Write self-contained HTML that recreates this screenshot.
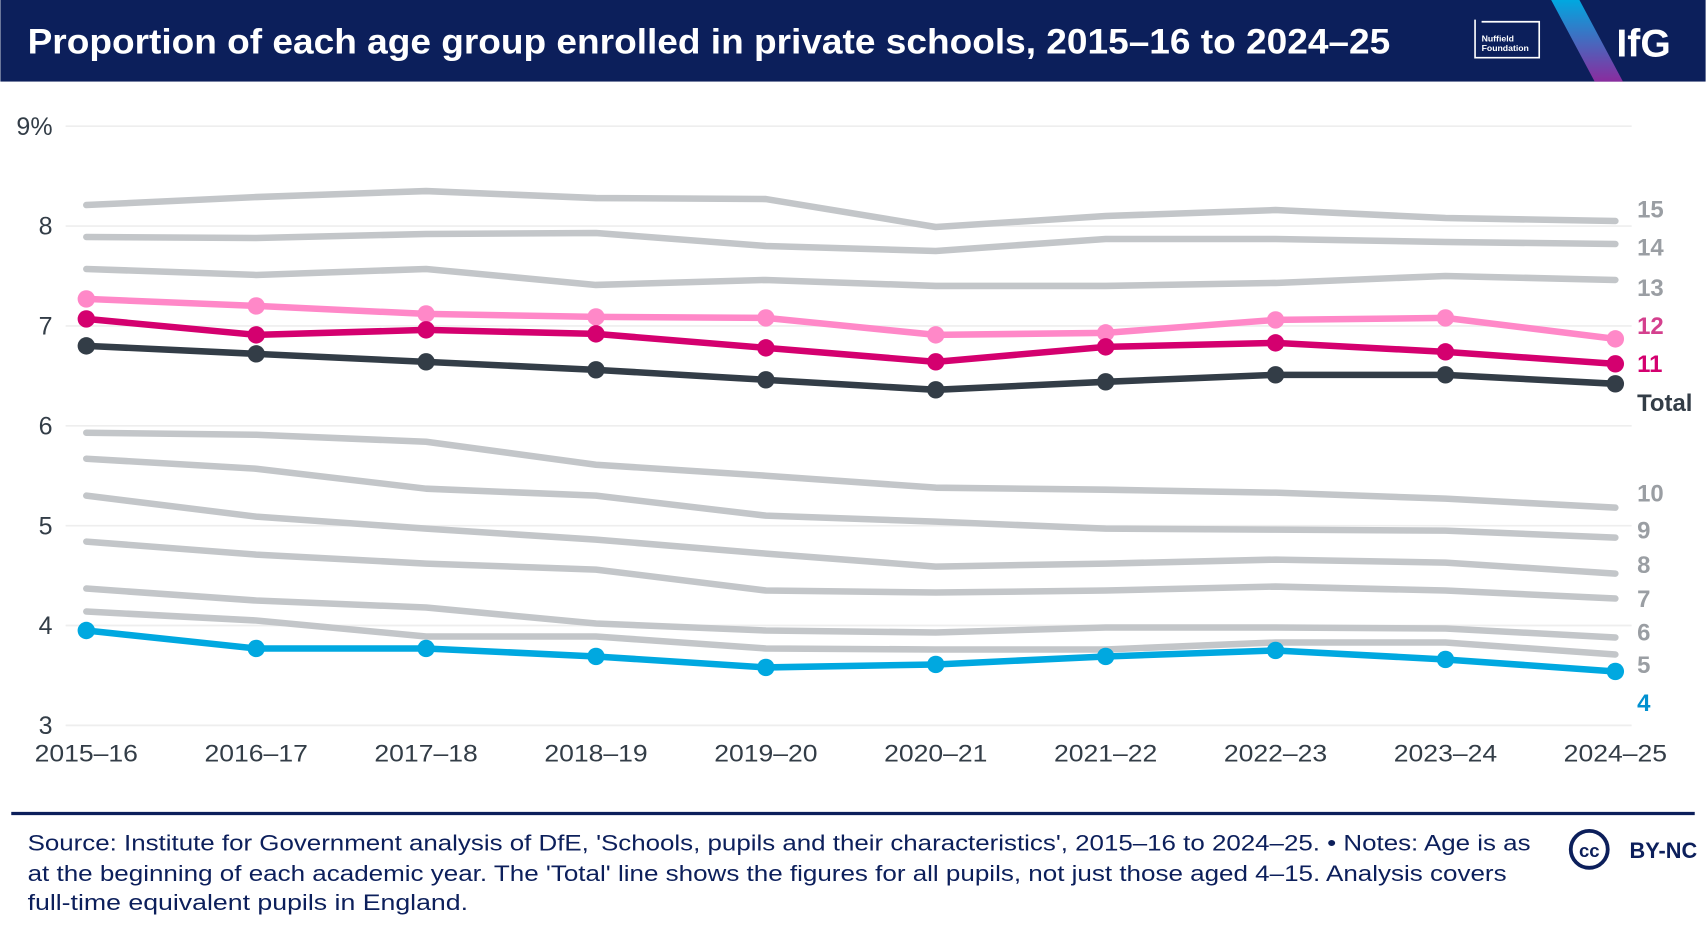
<!DOCTYPE html>
<html><head><meta charset="utf-8"><style>
html,body{margin:0;padding:0;background:#fff}
svg{display:block;font-family:"Liberation Sans",sans-serif}
</style></head><body>
<svg width="1706" height="932" viewBox="0 0 1568 857" xmlns="http://www.w3.org/2000/svg">
<rect x="0" y="0" width="1568" height="75" fill="#0c1f5b"/>
<text x="25" y="49" fill="#fff" font-size="32" font-weight="bold" textLength="1253" lengthAdjust="spacingAndGlyphs">Proportion of each age group enrolled in private schools, 2015–16 to 2024–25</text>
<defs><linearGradient id="g" x1="0" y1="0" x2="0" y2="1"><stop offset="0" stop-color="#00a8e0"/><stop offset="1" stop-color="#8a2c9e"/></linearGradient></defs>
<polygon points="1426,0 1452,0 1492,75 1466,75" fill="url(#g)"/>
<g>
<path d="M1356,18 V53 H1415 V20 H1362" fill="none" stroke="#fff" stroke-width="1.5"/>
<text x="1362" y="38" fill="#fff" font-size="8" font-weight="bold">Nuffield</text>
<text x="1362" y="47" fill="#fff" font-size="8" font-weight="bold">Foundation</text>
</g>
<text x="1486" y="52" fill="#fff" font-size="36" font-weight="bold">IfG</text>
<g id="grid"></g><g id="axes"></g><g id="lines"></g>
<line x1="10" y1="748" x2="1558" y2="748" stroke="#0c1f5b" stroke-width="3"/>
<g fill="#0c1f5b" font-size="20.5">
<text x="25" y="782" textLength="1382" lengthAdjust="spacingAndGlyphs">Source: Institute for Government analysis of DfE, 'Schools, pupils and their characteristics', 2015–16 to 2024–25. • Notes: Age is as</text>
<text x="25" y="810" textLength="1360" lengthAdjust="spacingAndGlyphs">at the beginning of each academic year. The 'Total' line shows the figures for all pupils, not just those aged 4–15. Analysis covers</text>
<text x="25" y="837" textLength="405" lengthAdjust="spacingAndGlyphs">full-time equivalent pupils in England.</text>
</g>
<g>
<circle cx="1461" cy="781" r="17" fill="none" stroke="#0c1f5b" stroke-width="3.5"/>
<text x="1461" y="788" text-anchor="middle" fill="#0c1f5b" font-size="17" font-weight="bold">cc</text>
<text x="1498" y="789" fill="#0c1f5b" font-size="20" font-weight="bold">BY-NC</text>
</g>
</svg>
<script>
const categories=["2015–16","2016–17","2017–18","2018–19","2019–20","2020–21","2021–22","2022–23","2023–24","2024–25"];
const yTicks=[3,4,5,6,7,8,9];
const age15=[8.21,8.29,8.35,8.28,8.27,7.99,8.10,8.16,8.08,8.05];
const age14=[7.89,7.88,7.92,7.93,7.80,7.75,7.87,7.87,7.84,7.82];
const age13=[7.57,7.51,7.57,7.41,7.46,7.40,7.40,7.43,7.50,7.46];
const age12=[7.27,7.20,7.12,7.09,7.08,6.91,6.93,7.06,7.08,6.87];
const age11=[7.07,6.91,6.96,6.92,6.78,6.64,6.79,6.83,6.74,6.62];
const total=[6.80,6.72,6.64,6.56,6.46,6.36,6.44,6.51,6.51,6.42];
const age10=[5.93,5.91,5.84,5.61,5.50,5.38,5.36,5.33,5.27,5.18];
const age9=[5.67,5.57,5.37,5.30,5.10,5.04,4.97,4.96,4.95,4.88];
const age8=[5.30,5.09,4.97,4.86,4.72,4.59,4.62,4.66,4.63,4.52];
const age7=[4.84,4.71,4.62,4.56,4.35,4.33,4.35,4.39,4.35,4.27];
const age6=[4.37,4.25,4.18,4.02,3.95,3.93,3.98,3.98,3.97,3.88];
const age5=[4.14,4.05,3.89,3.89,3.77,3.76,3.76,3.83,3.83,3.71];
const age4=[3.95,3.77,3.77,3.69,3.58,3.61,3.69,3.75,3.66,3.54];
const NS="http://www.w3.org/2000/svg";
const x=i=>79+i*(1485-79)/(categories.length-1);
const y=v=>667-(v-3)*(667-116)/6;
function mk(tag,attrs,parent){const e=document.createElementNS(NS,tag);for(const k in attrs)e.setAttribute(k,attrs[k]);parent.appendChild(e);return e;}
const grid=document.getElementById('grid'),axes=document.getElementById('axes'),lines=document.getElementById('lines');
yTicks.forEach(t=>{
 const l=mk('line',{x1:60,x2:1500,y1:y(t),y2:y(t),stroke:'#eeeeee','stroke-width':1.5},grid);
 
 
 const tx=mk('text',{x:48,y:y(t)+8,'text-anchor':'end','font-size':23,fill:'#333d47'},axes);
 tx.textContent=t===9?'9%':String(t);
 
 
});
categories.forEach((c,i)=>{
 const tx=mk('text',{x:x(i),y:700,'text-anchor':'middle','font-size':22,fill:'#333d47',textLength:95,lengthAdjust:'spacingAndGlyphs'},axes);
 tx.textContent=c;
 
 
});
const series=[
 [age15,'15','#c3c6c9',false],[age14,'14','#c3c6c9',false],[age13,'13','#c3c6c9',false],
 [age10,'10','#c3c6c9',false],[age9,'9','#c3c6c9',false],[age8,'8','#c3c6c9',false],
 [age7,'7','#c3c6c9',false],[age6,'6','#c3c6c9',false],[age5,'5','#c3c6c9',false],
 [age12,'12','#ff88c8',true],[age11,'11','#d4006f',true],[total,'Total','#333d47',true],[age4,'4','#00a8e0',true]
];
const labelY={'15':192,'14':227,'13':264,'12':299,'11':334,'Total':370,'10':453,'9':487,'8':519,'7':550,'6':581,'5':611,'4':646};
const labelCol={'12':'#d4408e','11':'#d4006f','Total':'#333d47','4':'#0090d0'};
series.forEach(([d,name,col,dots])=>{
 const g=mk('g',{},lines);
 
 
 const p=mk('polyline',{points:d.map((v,i)=>x(i)+','+y(v)).join(' '),fill:'none',stroke:col,'stroke-width':6,'stroke-linecap':'round','stroke-linejoin':'round'},g);
 
 
 if(dots)d.forEach((v,i)=>{
  const c=mk('circle',{cx:x(i),cy:y(v),r:8,fill:col},g);
  
  
 });
 const t=mk('text',{x:1505,y:labelY[name]+8,'font-size':22,'font-weight':'bold',fill:labelCol[name]||'#9a9ea3'},g);
 t.textContent=name;
 
 
});
</script>
</body></html>
